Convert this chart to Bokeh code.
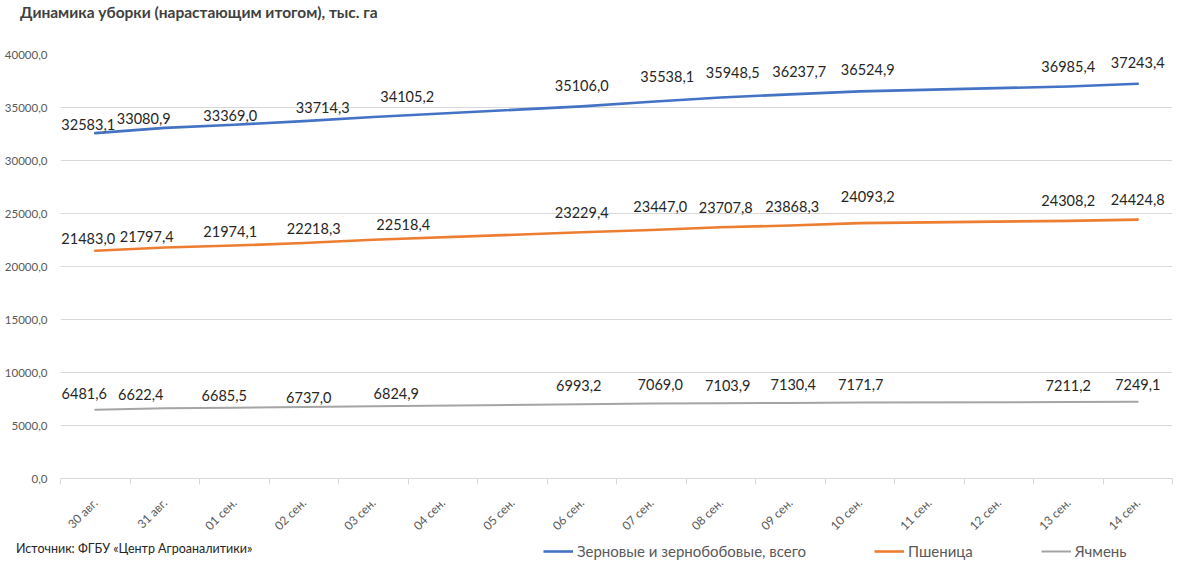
import math
from bokeh.plotting import figure
from bokeh.layouts import column
from bokeh.models import (FixedTicker, LinearAxis, Range1d, Legend, LegendItem,
                          LabelSet, ColumnDataSource, Div)
from bokeh.core.properties import value
from bokeh.embed import file_html
from bokeh.resources import INLINE

# ---------------- data ----------------
categories = ["30 авг.", "31 авг.", "01 сен.", "02 сен.", "03 сен.", "04 сен.", "05 сен.", "06 сен.",
              "07 сен.", "08 сен.", "09 сен.", "10 сен.", "11 сен.", "12 сен.", "13 сен.", "14 сен."]
NaN = float("nan")
grain = [32583.1, 33080.9, 33369.0, 33714.3, 34105.2, NaN, NaN, 35106.0,
         35538.1, 35948.5, 36237.7, 36524.9, NaN, NaN, 36985.4, 37243.4]
wheat = [21483.0, 21797.4, 21974.1, 22218.3, 22518.4, NaN, NaN, 23229.4,
         23447.0, 23707.8, 23868.3, 24093.2, NaN, NaN, 24308.2, 24424.8]
barley = [6481.6, 6622.4, 6685.5, 6737.0, 6824.9, NaN, NaN, 6993.2,
          7069.0, 7103.9, 7130.4, 7171.7, NaN, NaN, 7211.2, 7249.1]
series_names = ["Зерновые и зернобобовые, всего", "Пшеница", "Ячмень"]
y_ticks = [0, 5000, 10000, 15000, 20000, 25000, 30000, 35000, 40000]
title_text = "Динамика уборки (нарастающим итогом), тыс. га"
source_text = "Источник: ФГБУ «Центр Агроаналитики»"

# ---------------- style: data-label placement offsets (px, +x right, +y up) ----------------
grain_dx = [-7, -21, -4, 19, 34, 0, 16, 12, 9, 8, 0, 0]
grain_dy = [9, 9, 9, 14, 20, 21, 25, 25, 23, 22, 20, 21]
wheat_dx = [-7, -18, -4, 10, 30, 0, 9, 5, 2, 8, 0, 0]
wheat_dy = [12, 11, 14, 14, 15, 20, 23, 20, 19, 27, 20, 20]
barley_dx = [-11, -24, -10, 5, 23, -3, 9, 7, 3, 1, 0, 0]
barley_dy = [16, 14, 12, 10, 13, 19, 19, 18, 18, 18, 17, 17]
colors = ["#4472C4", "#ED7D31", "#A5A5A5"]
widths = [2.6, 2.6, 2.0]
FONT = "Lato"

# each category occupies one unit on the x axis, its centre at index + 0.5
n = len(categories)
slot_centre = [i + 0.5 for i in range(n)]

header = Div(text=(f'<div style="font-family:{FONT};font-size:15.5px;font-weight:bold;color:#404040;'
                   f'margin:1px 0 0 20px;white-space:nowrap">{title_text}</div>'),
             width=1200, height=30, margin=0)

p = figure(x_range=Range1d(0, n), y_range=Range1d(0, 40000),
           width=1200, height=511,
           min_border_left=60, min_border_right=28, min_border_top=24, min_border_bottom=63,
           output_backend="svg", toolbar_location=None, x_axis_location=None,
           background_fill_color="white", border_fill_color="white", margin=0)
p.outline_line_color = None
p.xgrid.grid_line_color = None
p.ygrid.grid_line_color = "#D9D9D9"
p.ygrid.ticker = FixedTicker(ticks=y_ticks)

# y axis
ya = p.yaxis[0]
ya.ticker = FixedTicker(ticks=y_ticks)
ya.major_label_overrides = {t: f"{t:.1f}".replace(".", ",") for t in y_ticks}
ya.axis_line_color = None
ya.major_tick_line_color = None
ya.major_tick_in = 0
ya.major_tick_out = 0
ya.minor_tick_line_color = None
ya.major_label_text_font = FONT
ya.major_label_text_font_size = "11.5px"
ya.major_label_text_color = "#595959"
ya.major_label_standoff = 13

# x axis: labels at category centres, tick marks at category boundaries
xa = LinearAxis(ticker=FixedTicker(ticks=slot_centre, minor_ticks=list(range(n + 1))),
                major_label_overrides={c: lab for c, lab in zip(slot_centre, categories)},
                axis_line_color="#D9D9D9", major_tick_line_color=None,
                major_tick_in=0, major_tick_out=0,
                minor_tick_line_color="#D9D9D9", minor_tick_in=0, minor_tick_out=6,
                major_label_orientation=math.pi / 4,
                major_label_text_font=FONT, major_label_text_font_size="12px",
                major_label_text_color="#595959", major_label_standoff=16)
p.add_layout(xa, "below")


def present(vals):
    xs = [c for c, v in zip(slot_centre, vals) if not math.isnan(v)]
    ys = [v for v in vals if not math.isnan(v)]
    return xs, ys


for vals, col, lw, dx, dy in [(grain, colors[0], widths[0], grain_dx, grain_dy),
                              (wheat, colors[1], widths[1], wheat_dx, wheat_dy),
                              (barley, colors[2], widths[2], barley_dx, barley_dy)]:
    xs, ys = present(vals)
    p.line(xs, ys, line_color=col, line_width=lw, line_join="round", line_cap="round")
    src = ColumnDataSource(dict(x=xs, y=ys, t=[f"{v:.1f}".replace(".", ",") for v in ys], dx=dx, dy=dy))
    p.add_layout(LabelSet(x="x", y="y", text="t", x_offset="dx", y_offset="dy", source=src,
                          text_align="center", text_baseline="middle",
                          text_font=value(FONT), text_font_size=value("14.5px"),
                          text_color=value("#262626")))

# footer with the legend (key lines carry no visible data)
f = figure(x_range=Range1d(0, 1), y_range=Range1d(0, 1), width=1200, height=30,
           min_border=0, output_backend="svg", toolbar_location=None,
           x_axis_location=None, y_axis_location=None,
           background_fill_color="white", border_fill_color="white", margin=0)
f.outline_line_color = None
f.grid.grid_line_color = None
keys = [f.line(x=[NaN], y=[NaN], line_color=c, line_width=w) for c, w in zip(colors, widths)]
legend = Legend(items=[LegendItem(label=nm, renderers=[r]) for nm, r in zip(series_names, keys)],
                orientation="horizontal", location=(483, 10),
                glyph_width=30, glyph_height=20, label_standoff=4, spacing=68,
                padding=0, margin=0, border_line_color=None, background_fill_alpha=0,
                label_text_font=FONT, label_text_font_size="15px", label_text_color="#595959")
f.add_layout(legend)

note = Div(text=(f'<div style="font-family:{FONT};font-size:12.5px;color:#262626;'
                 f'line-height:15px;white-space:nowrap">{source_text}</div>'),
           width=400, height=15, margin=(-30, 0, 0, 16))

open("out.html", "w").write(file_html(column(header, p, f, note, spacing=0), INLINE))
